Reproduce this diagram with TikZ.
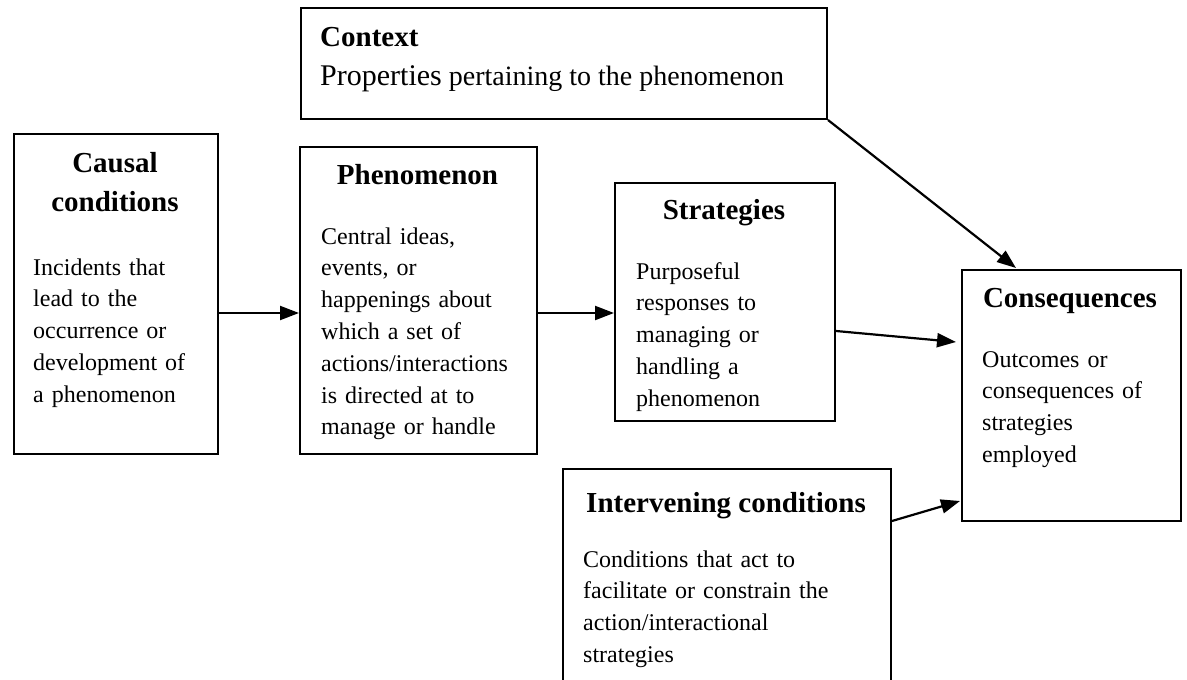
\documentclass[tikz,border=0pt]{standalone}
\usepackage{fontspec}
\setmainfont{Liberation Serif}
\usetikzlibrary{arrows.meta}
\begin{document}
\begin{tikzpicture}[x=1pt,y=-1pt,
  box/.style={draw, line width=2pt, inner sep=0pt, anchor=north west},
  ttl/.style={font=\bfseries\fontsize{29}{39}\selectfont, inner sep=0pt, anchor=base, align=center},
  body/.style={font=\fontsize{24}{31.8}\selectfont, inner sep=0pt, anchor=base west, text width=#1, align=left},
  conn/.style={line width=2.2pt, -{Triangle[length=19pt,width=14pt]}}]
\useasboundingbox (0,0) rectangle (1187,680);

% boxes
\node[box, minimum width=526pt, minimum height=111pt] (ctx) at (300,7) {};
\node[box, minimum width=204pt, minimum height=320pt] (causal) at (13,133) {};
\node[box, minimum width=237pt, minimum height=307pt] (phen) at (299,146) {};
\node[box, minimum width=220pt, minimum height=238pt] (strat) at (614,182) {};
\node[box, minimum width=219pt, minimum height=251pt] (cons) at (961,269) {};
\node[box, minimum width=328pt, minimum height=240pt] (inter) at (562,468) {};

% texts
\node[ttl, anchor=base west] (ctxT) at (320,46) {Context};
\node[font=\fontsize{28}{30}\selectfont, inner sep=0pt, anchor=base west] (ctxB) at (320,85)
  {{\fontsize{30}{30}\selectfont Properties} pertaining to the phenomenon};

\node[ttl, text width=200pt] (causalT) at (115,172) {Causal\\conditions};
\node[body=180pt] (causalB) at (33,275)
  {Incidents that\\lead to the\\occurrence or\\development of\\a phenomenon};

\node[ttl] (phenT) at (417.5,184) {Phenomenon};
\node[body=220pt] (phenB) at (321,244)
  {Central ideas,\\events, or\\happenings about\\which a set of\\actions/interactions\\is directed at to\\manage or handle};

\node[ttl] (stratT) at (724,219) {Strategies};
\node[body=200pt] (stratB) at (636,279)
  {Purposeful\\responses to\\managing or\\handling a\\phenomenon};

\node[ttl] (consT) at (1070,307) {Consequences};
\node[body=200pt] (consB) at (982,367)
  {Outcomes or\\consequences of\\strategies\\employed};

\node[ttl] (interT) at (726,512) {Intervening conditions};
\node[body=320pt] (interB) at (583,567)
  {Conditions that act to\\facilitate or constrain the\\action/interactional\\strategies};

% connectors
\coordinate (row) at (0,313);
\draw[conn] (causal.east |- row) -- (phen.west |- row);
\draw[conn] (phen.east |- row) -- (strat.west |- row);
\draw[conn] ([yshift=-29pt]strat.east) -- ([xshift=-5pt,yshift=53.5pt]cons.west);
\draw[conn] (ctx.south east) -- ([xshift=-55.5pt,yshift=1pt]cons.north);
\draw[conn] ([yshift=68pt]inter.east) -- ([xshift=-1pt,yshift=-105.5pt]cons.west);
\end{tikzpicture}
\end{document}
